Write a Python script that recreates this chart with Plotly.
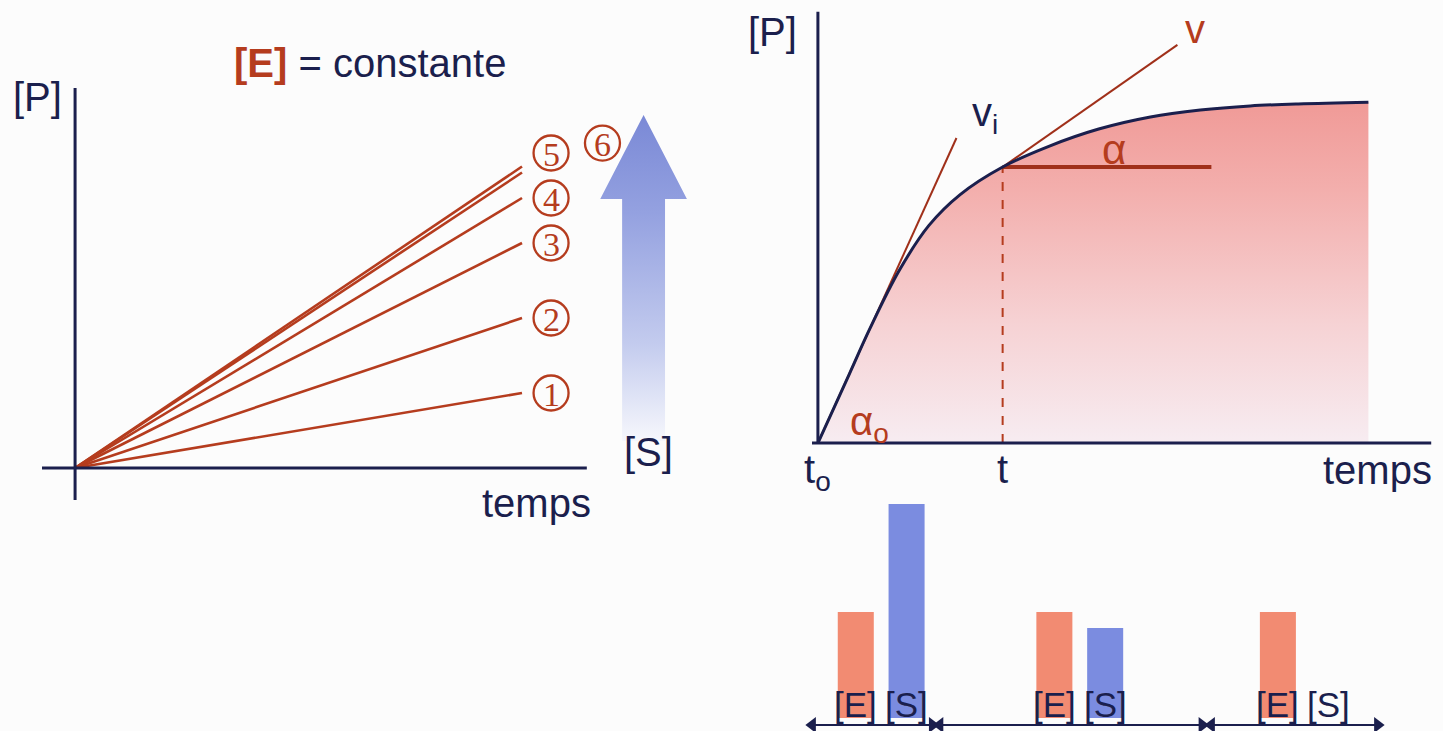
import plotly.graph_objects as go

# ---------------- data ----------------
# Left panel: product formed versus time, enzyme constant, substrate rising (runs 1..6)
run_time = [0.0, 1.0]
run_rates = [0.25, 0.50, 0.75, 0.90, 0.985, 1.005]
run_labels = ["1", "2", "3", "4", "5", "6"]

# Right panel: progress curve [P] versus time
curve_t = [0.0, 0.17, 0.28, 0.44, 0.60, 0.77, 1.00, 1.25, 1.52, 1.80, 2.07, 2.34, 2.60, 2.98]
curve_p = [0.0, 0.20, 0.33, 0.50, 0.63, 0.72, 0.80, 0.86, 0.91, 0.945, 0.965, 0.977, 0.983, 0.988]
t_mark = 1.0
p_mark = 0.80
vi_tangent_t = [0.0, 0.75]
vi_tangent_p = [0.0, 0.884]
v_tangent_t = [1.0, 1.946]
v_tangent_p = [0.80, 1.154]
alpha_ref_t = [1.0, 2.13]

# Bottom bars: enzyme and substrate levels in three time phases
phase_bounds = [(-0.03, 0.62), (0.66, 2.08), (2.13, 3.03)]
enzyme_level = [1.0, 1.0, 1.0]
substrate_level = [2.02, 0.85, 0.0]

# ---------------- style ----------------
NAVY = "#1b1f4d"
RED = "#b53c1e"
DARKRED = "#a0301a"
FONT = "Liberation Sans, Arial, sans-serif"
SERIF = "Liberation Serif, Times New Roman, serif"
W, H = 1443, 731


def px_dom(a, b):
    return [a / W, b / W]


def py_dom(top, bottom):
    return [1 - bottom / H, 1 - top / H]


fig = go.Figure()
ann = []


def label(text, x, y, ax="x", size=40, color=NAVY, family=FONT):
    ann.append(dict(text=text, x=x, y=y, xref=ax, yref=ax.replace("x", "y"), showarrow=False,
                    font=dict(family=family, size=size, color=color)))


# ---- left panel ----
for r in run_rates:
    fig.add_trace(go.Scatter(x=run_time, y=[0, r], mode="lines",
                             line=dict(color=RED, width=2.6),
                             xaxis="x", yaxis="y", hoverinfo="skip"))

# circled run numbers next to the line ends
label_dx = [0.065, 0.065, 0.065, 0.065, 0.065, 0.18]
label_dy = [0.0, 0.0, 0.0, 0.0, 0.065, 0.078]
lab_x = [run_time[-1] + d for d in label_dx]
lab_y = [r + d for r, d in zip(run_rates, label_dy)]
fig.add_trace(go.Scatter(x=lab_x, y=lab_y, mode="markers",
                         marker=dict(symbol="circle-open", size=35,
                                     line=dict(color=RED, width=2.3), color=RED),
                         cliponaxis=False, xaxis="x", yaxis="y", hoverinfo="skip"))
for lx, ly, txt in zip(lab_x, lab_y, run_labels):
    label(txt, lx, ly - 0.004, "x", 34, RED, SERIF)

# rising substrate arrow with vertical colour fade
ax_c, tip, head_base, shaft_bot = 1.272, 1.177, 0.897, 0.09
hw, sw = 0.097, 0.048
fig.add_trace(go.Scatter(
    x=[ax_c - sw, ax_c - sw, ax_c - hw, ax_c, ax_c + hw, ax_c + sw, ax_c + sw, ax_c - sw],
    y=[shaft_bot, head_base, head_base, tip, head_base, head_base, shaft_bot, shaft_bot],
    mode="lines", line=dict(width=0), fill="toself",
    fillgradient=dict(type="vertical",
                      colorscale=[[0, "#f6f7fc"], [0.3, "#c3cbee"], [0.7, "#94a1e0"], [1, "#7a89d6"]]),
    xaxis="x", yaxis="y", hoverinfo="skip"))

# ---- right panel ----
fig.add_trace(go.Scatter(x=curve_t, y=curve_p, mode="lines", line=dict(width=0),
                         fill="tozeroy", line_shape="spline",
                         fillgradient=dict(type="vertical",
                                           colorscale=[[0, "#f7ecf1"], [0.35, "#f6d2d4"],
                                                       [0.75, "#f3aeac"], [1, "#f09a97"]]),
                         xaxis="x2", yaxis="y2", hoverinfo="skip"))
fig.add_trace(go.Scatter(x=[t_mark, t_mark], y=[0, p_mark], mode="lines",
                         line=dict(color=RED, width=2, dash="dash"),
                         xaxis="x2", yaxis="y2", hoverinfo="skip"))
fig.add_trace(go.Scatter(x=alpha_ref_t, y=[p_mark, p_mark], mode="lines",
                         line=dict(color=DARKRED, width=4),
                         xaxis="x2", yaxis="y2", hoverinfo="skip"))
fig.add_trace(go.Scatter(x=vi_tangent_t, y=vi_tangent_p, mode="lines",
                         line=dict(color=DARKRED, width=2),
                         xaxis="x2", yaxis="y2", hoverinfo="skip"))
fig.add_trace(go.Scatter(x=v_tangent_t, y=v_tangent_p, mode="lines",
                         line=dict(color=DARKRED, width=2),
                         xaxis="x2", yaxis="y2", hoverinfo="skip"))
fig.add_trace(go.Scatter(x=curve_t, y=curve_p, mode="lines", line_shape="spline",
                         line=dict(color=NAVY, width=3),
                         xaxis="x2", yaxis="y2", hoverinfo="skip"))

# ---- bars ----
phase_mid = [(a + b) / 2 for a, b in phase_bounds]
e_x = [m - 0.09 for m in phase_mid]
s_x = [m + 0.185 for m in phase_mid]
fig.add_trace(go.Bar(x=e_x, y=enzyme_level, width=0.195, textposition="none",
                     marker=dict(color="#f28b72", line=dict(width=0)),
                     xaxis="x3", yaxis="y3", hoverinfo="skip"))
fig.add_trace(go.Bar(x=s_x, y=substrate_level, width=0.195, textposition="none",
                     marker=dict(color="#7b8ce0", line=dict(width=0)),
                     xaxis="x3", yaxis="y3", hoverinfo="skip"))

# double-headed phase arrows under the bars
arrow_y = -0.066
for a, b in phase_bounds:
    fig.add_trace(go.Scatter(x=[a, b], y=[arrow_y, arrow_y], mode="lines",
                             line=dict(color=NAVY, width=2),
                             xaxis="x3", yaxis="y3", hoverinfo="skip"))
    fig.add_trace(go.Scatter(x=[a, b], y=[arrow_y, arrow_y], mode="markers",
                             marker=dict(symbol=["triangle-left", "triangle-right"], size=14,
                                         color=NAVY, line=dict(width=0)),
                             cliponaxis=False, xaxis="x3", yaxis="y3", hoverinfo="skip"))

# ---------------- axes lines ----------------
shapes = [
    dict(type="line", xref="x", yref="y", x0=-0.074, x1=1.145, y0=0, y1=0, line=dict(color=NAVY, width=3)),
    dict(type="line", xref="x", yref="y", x0=0, x1=0, y0=-0.107, y1=1.267, line=dict(color=NAVY, width=3)),
    dict(type="line", xref="x2", yref="y2", x0=-0.032, x1=3.32, y0=0, y1=0, line=dict(color=NAVY, width=3)),
    dict(type="line", xref="x2", yref="y2", x0=0, x1=0, y0=0, y1=1.25, line=dict(color=NAVY, width=3)),
]

label("<b><span style='color:%s'>[E]</span></b> = constante" % RED, 0.66, 1.35, "x", 40)
label("[P]", -0.083, 1.237, "x", 40)
label("temps", 1.033, -0.117, "x", 40)
label("[S]", 1.283, 0.053, "x", 40)

label("[P]", -0.247, 1.191, "x2", 40)
label("temps", 3.027, -0.078, "x2", 40)
label("t<sub>o</sub>", 0.0, -0.085, "x2", 40)
label("t", t_mark, -0.075, "x2", 40)
label("v<sub>i</sub>", 0.903, 0.95, "x2", 40)
label("v", 2.04, 1.2, "x2", 40, RED)
label("α", 1.605, 0.85, "x2", 42, RED)
label("α<sub>o</sub>", 0.28, 0.055, "x2", 40, RED)

for ex, sx in zip(e_x, s_x):
    label("[E]", ex, 0.13, "x3", 35)
    label("[S]", sx, 0.13, "x3", 35)

hidden = dict(visible=False, showgrid=False, zeroline=False, fixedrange=True)

fig.update_layout(
    width=W, height=H, autosize=False,
    margin=dict(l=0, r=0, t=0, b=0),
    paper_bgcolor="#fcfcfc", plot_bgcolor="rgba(0,0,0,0)",
    showlegend=False, barmode="overlay",
    xaxis=dict(domain=px_dom(0, 720), range=[-0.168, 1.443], **hidden),
    yaxis=dict(domain=py_dom(20, 520), range=[-0.1733, 1.4933], **hidden),
    xaxis2=dict(domain=px_dom(760, 1443), range=[-0.3135, 3.3838], **hidden),
    yaxis2=dict(domain=py_dom(0, 500), range=[-0.1652, 1.2841], **hidden),
    xaxis3=dict(domain=px_dom(760, 1443), range=[-0.3135, 3.3838], **hidden),
    yaxis3=dict(domain=py_dom(490, 731), range=[-0.123, 2.151], **hidden),
    shapes=shapes, annotations=ann,
)

fig.write_html("out.html")
